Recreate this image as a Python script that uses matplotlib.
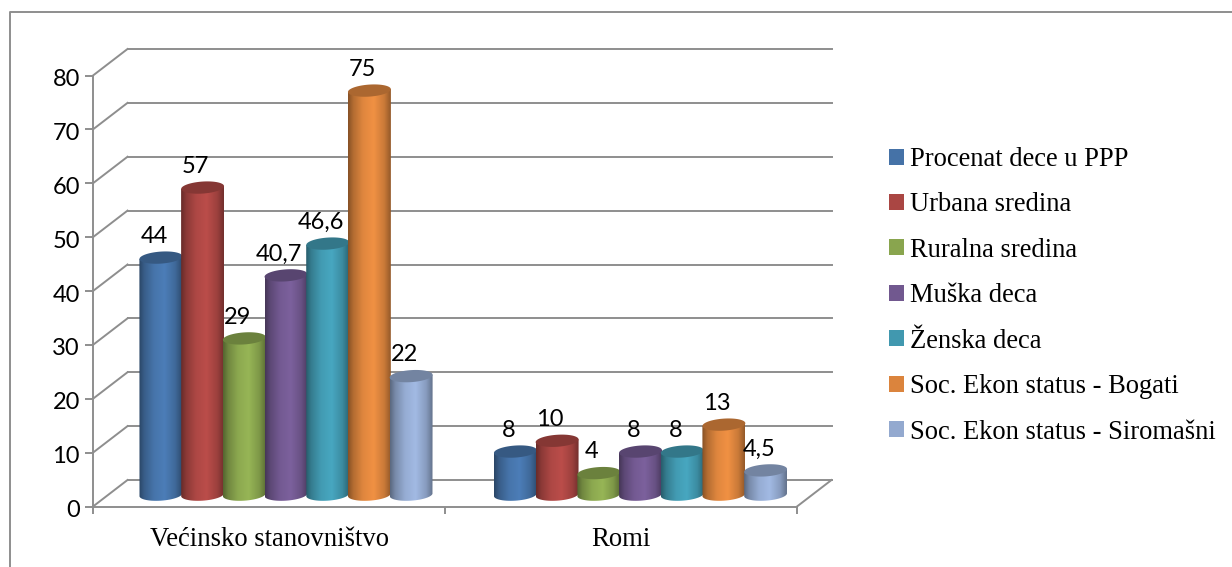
import matplotlib
matplotlib.use("Agg")
import matplotlib.pyplot as plt
import numpy as np
from matplotlib.lines import Line2D
from matplotlib.patches import Patch, PathPatch, Polygon
from matplotlib.path import Path
from matplotlib.colors import to_rgb
from matplotlib.transforms import ScaledTranslation

categories = ["Većinsko stanovništvo", "Romi"]
series_names = ["Procenat dece u PPP", "Urbana sredina", "Ruralna sredina", "Muška deca",
                "Ženska deca", "Soc. Ekon status - Bogati", "Soc. Ekon status - Siromašni"]
majority_values = [44, 57, 29, 40.7, 46.6, 75, 22]
roma_values = [8, 10, 4, 8, 8, 13, 4.5]
value_labels = [["44", "57", "29", "40,7", "46,6", "75", "22"],
                ["8", "10", "4", "8", "8", "13", "4,5"]]
colors = ["#4572a7", "#aa4643", "#89a54e", "#71588f", "#4198af", "#db843d", "#93a9cf"]
y_ticks = [0, 10, 20, 30, 40, 50, 60, 70, 80]

W, H = 1232, 567
GRID = "#8e8e8e"
SERIF = "Liberation Serif"
SANS = "Lato"

fig = plt.figure(figsize=(W / 100, H / 100), dpi=100)
# the outer frame only shows on the left and on top
fig.add_artist(Line2D([10 / W, 10 / W, 1], [0, 1 - 12 / H, 1 - 12 / H], color=GRID, lw=1.4))

ax = fig.add_axes([93 / W, 1 - 506.5 / H, (797 - 93) / W, (506.5 - 75.5) / H])
px_x = 2 / (797 - 93)       # one pixel in x data units
px_y = 80 / (506.5 - 75.5)  # one pixel in y data units
depth_x = 34.5 * px_x
depth_y = 26.5 * px_y

# walls
for t in y_ticks:
    ax.plot([0, depth_x], [t, t + depth_y], color=GRID, lw=1.4, clip_on=False, zorder=1)
    ax.plot([depth_x, 2 + depth_x], [t + depth_y, t + depth_y], color=GRID, lw=1.4, clip_on=False, zorder=1)
ax.plot([2, 2 + depth_x], [0, depth_y], color=GRID, lw=1.4, clip_on=False, zorder=1)


def ellipse_points(cx, cy, half_w, half_h, tilt):
    a = np.linspace(0, 2 * np.pi, 60)
    ex = half_w * np.cos(a)
    ey = half_h * np.sin(a)
    # tilt is worked out in pixels so the shape is not stretched by the axis scales
    rx = ex * np.cos(tilt) - ey * np.sin(tilt)
    ry = ex * np.sin(tilt) + ey * np.cos(tilt)
    return np.column_stack([cx + rx * px_x, cy + ry * px_y])


def cylinder(xc, value, color, z):
    half_w = 21.5
    half_h = 6
    tilt = np.radians(4)
    base = 2.2
    rgb = np.array(to_rgb(color))
    # shading across the bar
    t = np.linspace(0, 1, 60)
    shade = np.interp(t, [0, 0.12, 0.35, 0.6, 0.85, 1], [0.62, 0.82, 1.02, 1.1, 0.92, 0.68])
    img = np.clip(shade[:, None] * rgb[None, :], 0, 1)[None, :, :]

    x0 = xc - half_w * px_x
    x1 = xc + half_w * px_x
    top = value + base
    lift = half_w * np.sin(tilt) * px_y
    low = ellipse_points(xc, base, half_w, half_h, tilt)
    low = low[(low[:, 1] < base + (low[:, 0] - xc) / px_x * np.tan(tilt) * px_y)]
    low = low[np.argsort(low[:, 0])]
    outline = np.vstack([[[x0, top - lift], [x1, top + lift]], low[::-1], [[x0, top - lift]]])
    im = ax.imshow(img, extent=(x0, x1, base - 10 * px_y, top + 10 * px_y), aspect="auto",
                   interpolation="bilinear", zorder=z, clip_on=True)
    clip = PathPatch(Path(outline), transform=ax.transData, fill=False, edgecolor="none")
    ax.add_patch(clip)
    im.set_clip_path(clip)
    ax.add_patch(Polygon(ellipse_points(xc, top, half_w, half_h, tilt), closed=True,
                         facecolor=rgb * 0.78, edgecolor="none", zorder=z + 0.1))


group_offsets = [17 * px_x, 19.5 * px_x]
pitch = 41.7 * px_x
for g, values in enumerate([majority_values, roma_values]):
    for i, value in enumerate(values):
        xc = g + 0.5 + group_offsets[g] + (i - 3) * pitch
        cylinder(xc, value, colors[i], 3 + i)
        ax.annotate(value_labels[g][i], (xc, value + 2.2), xytext=(-5, 15.3), textcoords="offset points",
                    ha="center", va="center", fontsize=17, family=SANS, color="black",
                    zorder=20, annotation_clip=False)

ax.set_xlim(0, 2)
ax.set_ylim(0, 80)
ax.set_yticks(y_ticks)
ax.set_xticks([0, 1, 2])
ax.set_xticklabels([])
ax.set_xticks([0.5, 1.5], categories, minor=True)
ax.tick_params(axis="y", length=5.5, width=1.4, color=GRID, labelsize=17, pad=4)
ax.tick_params(axis="x", which="major", length=5, width=1.4, color=GRID)
ax.tick_params(axis="x", which="minor", length=0, labelsize=19.2, pad=15)
for lab in ax.get_yticklabels():
    lab.set_fontfamily(SANS)
    lab.set_transform(lab.get_transform() + ScaledTranslation(0, -1.5 / 72, fig.dpi_scale_trans))
for lab in ax.get_xticklabels(minor=True):
    lab.set_fontfamily(SERIF)
for side in ["top", "right"]:
    ax.spines[side].set_visible(False)
for side in ["left", "bottom"]:
    ax.spines[side].set_color(GRID)
    ax.spines[side].set_linewidth(1.4)
ax.patch.set_visible(False)

handles = [Patch(facecolor=c, edgecolor="none", label=n) for c, n in zip(colors, series_names)]
fig.legend(handles=handles, loc="upper left", bbox_to_anchor=(889 / W, 1 - 147 / H), frameon=False,
           prop={"family": SERIF, "size": 19.1}, handlelength=0.55, handleheight=0.55,
           handletextpad=0.25, labelspacing=0.77, borderpad=0, borderaxespad=0)

fig.savefig("out.png", dpi=100)
